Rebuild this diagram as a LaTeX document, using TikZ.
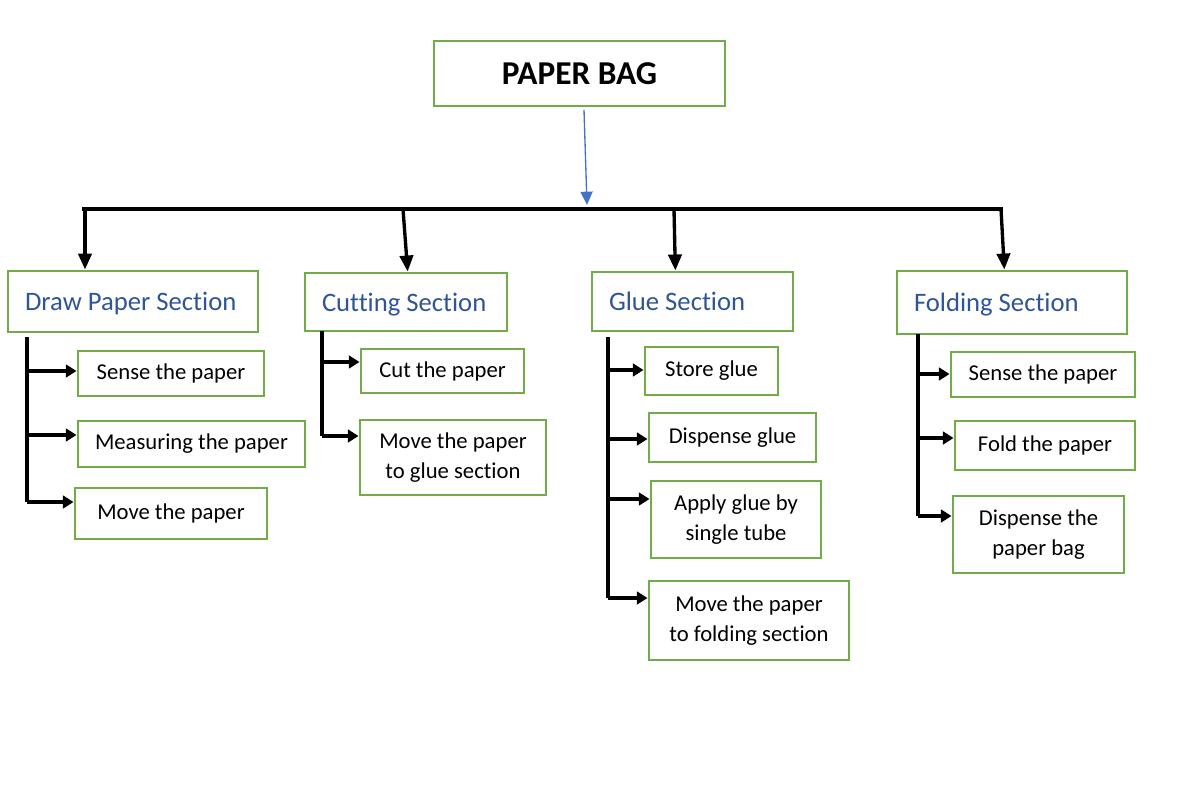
\documentclass[tikz,border=0pt]{standalone}
\usepackage{fontspec}
\setmainfont{Carlito}[Ligatures=NoCommon]
\usetikzlibrary{arrows.meta}
\definecolor{boxgreen}{HTML}{70AD47}
\definecolor{secblue}{HTML}{2F5597}
\definecolor{arrblue}{HTML}{4472C4}
% \bx{name}{x1}{y1}{x2}{y2}{style}{text}
\newcommand\bx[7]{\node[#6, minimum width={(#4-#2)*0.75pt}, minimum height={(#5-#3)*0.75pt}] (#1) at ({(#2+#4)/2},{(#3+#5)/2}) {#7};}
% \sx{name}{x1}{y1}{x2}{y2}{text}  section box, left aligned text
\newcommand\sx[6]{\node[sect, text width={(#4-#2-34)*0.75pt}, minimum height={(#5-#3)*0.75pt}] (#1) at ({(#2+#4)/2},{(#3+#5)/2}) {#6};}
\begin{document}
\begin{tikzpicture}[x=0.75pt,y=-0.75pt,
  box/.style={draw=boxgreen, line width=2.2pt, fill=white, inner sep=0pt, align=flush center, font=\fontsize{17}{22.5}\selectfont},
  topbox/.style={box, font=\fontsize{25}{30}\selectfont\bfseries},
  sect/.style={draw=boxgreen, line width=2.2pt, fill=white, inner xsep=12.75pt, inner ysep=0pt, align=flush left, text=secblue, font=\fontsize{20}{22}\selectfont, text depth=0pt},
  bus/.style={line width=2.5pt, black},
  down/.style={line width=2.5pt, black, -{Triangle[length=12pt,width=10pt]}},
  side/.style={line width=2.5pt, black, -{Triangle[length=8pt,width=9.5pt]}},
  blue/.style={line width=1pt, arrblue, -{Triangle[length=10pt,width=9pt]}}]
\useasboundingbox (0,0) rectangle (1199,792);

% top
\bx{top}{434}{41}{725}{106}{topbox}{PAPER BAG}

% sections
\sx{dps}{8}{271}{258}{332}{Draw Paper Section}
\sx{cut}{305}{273}{507}{331}{Cutting Section}
\sx{glue}{592}{272}{793}{331}{Glue Section}
\sx{fold}{897}{271}{1127}{334}{Folding Section}

% draw paper subs
\bx{d1}{78}{351}{264}{396}{box}{Sense the paper}
\bx{d2}{78}{421}{305}{467}{box}{Measuring the paper}
\bx{d3}{75}{488}{267}{539}{box}{Move the paper}
% cutting subs
\bx{c1}{361}{349}{524}{393}{box}{Cut the paper}
\bx{c2}{360}{420}{546}{495}{box}{Move the paper\\to glue section}
% glue subs
\bx{g1}{645}{347}{778}{395}{box}{Store glue}
\bx{g2}{649}{413}{816}{462}{box}{Dispense glue}
\bx{g3}{651}{481}{821}{558}{box}{Apply glue by\\single tube}
\bx{g4}{649}{581}{849}{660}{box}{Move the paper\\to folding section}
% folding subs
\bx{f1}{951}{352}{1135}{397}{box}{Sense the paper}
\bx{f2}{955}{421}{1135}{470}{box}{Fold the paper}
\bx{f3}{953}{496}{1124}{573}{box}{Dispense the\\paper bag}

% top arrow and bus
\coordinate (ts) at (584,110);
\coordinate (te) at (587,205);
\draw[blue] (ts) -- (te);
\coordinate (bL) at (82,209);
\coordinate (bR) at (1003,209);
\draw[bus] (bL) -- (bR);
\coordinate (b1) at (85,209);
\coordinate (b2) at (403,209);
\coordinate (b3) at (674,209);
\coordinate (b4) at (1001,209);
\draw[down] (b1) -- (b1 |- dps.north);
\draw[down] (b2) -- ([xshift=3.5pt]b2 |- cut.north);
\draw[down] (b3) -- ([xshift=1pt]b3 |- glue.north);
\draw[down] (b4) -- ([xshift=2.5pt]b4 |- fold.north);

% draw paper branch
\coordinate (dv0) at (27,337);
\coordinate (dv1) at (27,371);
\coordinate (dv2) at (27,435);
\coordinate (dv3) at (27,502);
\draw[bus] (dv0) -- (dv3);
\draw[side] (dv1) -- (dv1 -| d1.west);
\draw[side] (dv2) -- (dv2 -| d2.west);
\draw[side] (dv3) -- (dv3 -| d3.west);

% cutting branch
\coordinate (cv0) at (322,331);
\coordinate (cv1) at (322,362);
\coordinate (cv2) at (322,436);
\draw[bus] (cv0) -- (cv2);
\draw[side] (cv1) -- (cv1 -| c1.west);
\draw[side] (cv2) -- (cv2 -| c2.west);

% glue branch
\coordinate (gv0) at (608,337);
\coordinate (gv1) at (608,370);
\coordinate (gv2) at (608,439);
\coordinate (gv3) at (608,499);
\coordinate (gv4) at (608,598);
\draw[bus] (gv0) -- (gv4);
\draw[side] (gv1) -- (gv1 -| g1.west);
\draw[side] (gv2) -- (gv2 -| g2.west);
\draw[side] (gv3) -- (gv3 -| g3.west);
\draw[side] (gv4) -- (gv4 -| g4.west);

% folding branch
\coordinate (fv0) at (918,334);
\coordinate (fv1) at (918,374);
\coordinate (fv2) at (918,438);
\coordinate (fv3) at (918,516);
\draw[bus] (fv0) -- (fv3);
\draw[side] (fv1) -- (fv1 -| f1.west);
\draw[side] (fv2) -- (fv2 -| f2.west);
\draw[side] (fv3) -- (fv3 -| f3.west);
\end{tikzpicture}
\end{document}
